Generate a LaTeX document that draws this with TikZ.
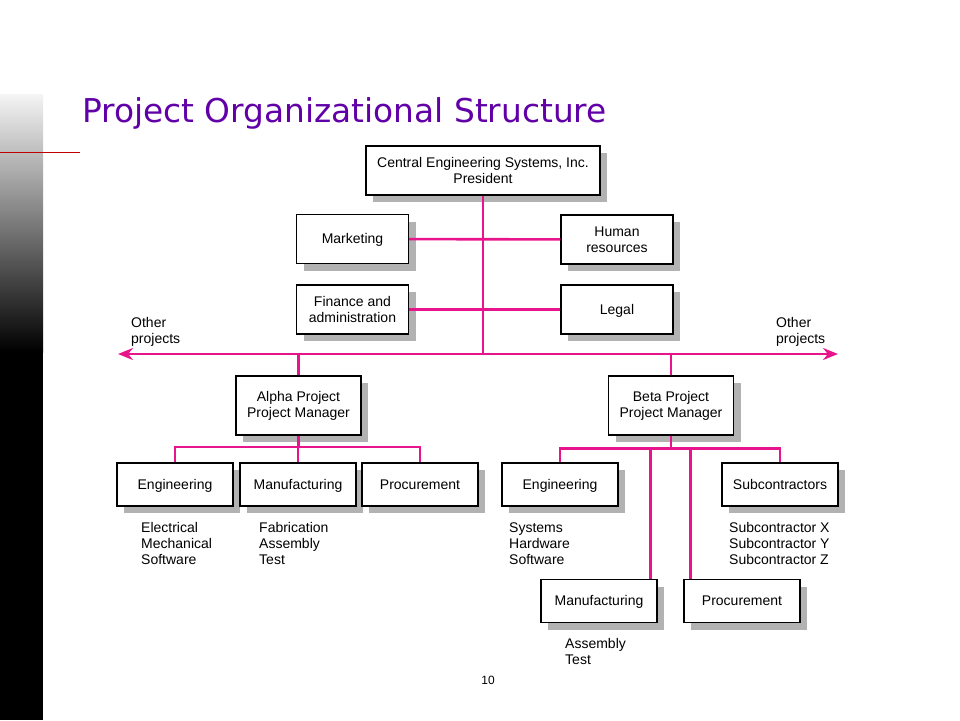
\documentclass[tikz,border=0pt]{standalone}
\usepackage{fontspec}
\setmainfont{Liberation Sans}
\newfontfamily\titlefont{DejaVu Sans}
\usepackage{tikz}
\usetikzlibrary{arrows.meta}
\usetikzlibrary{shadows}
\definecolor{linkpink}{RGB}{232,20,140}
\definecolor{titlepurple}{RGB}{98,0,168}
\definecolor{shadowgray}{RGB}{178,178,178}
\definecolor{slidered}{RGB}{192,0,0}
\tikzstyle{unit} = [rectangle, text centered, align=center, draw=black, line width=1.4pt, fill=white, font=\fontsize{14}{16}\selectfont, drop shadow={shadow xshift=7pt, shadow yshift=-7pt, fill=shadowgray, opacity=1}]
\tikzstyle{single} = [text height=11pt, text depth=1.5pt]
\tikzstyle{staff} = [unit, minimum width=112pt, minimum height=49pt]
\tikzstyle{dept} = [unit, single, minimum width=116pt, minimum height=43pt]
\tikzstyle{manager} = [unit, minimum width=125pt, minimum height=59pt]
\tikzstyle{note} = [align=left, inner sep=0pt, anchor=north west, font=\fontsize{14}{16}\selectfont]
\tikzstyle{link} = [linkpink, line width=2.6pt]
\tikzstyle{bus} = [link, {Stealth[length=15pt,width=12pt]}-{Stealth[length=15pt,width=12pt]}]

\begin{document}
\begin{tikzpicture}[x=1pt, y=-1pt]

\useasboundingbox (0,0) rectangle (960,720);
\shade [top color=white!96!black, bottom color=black] (0,94) rectangle (43,352);
\fill [black] (0,352) rectangle (43,720);
\draw [slidered, line width=1pt] (0,152) -- (80,152);

\node (title) [anchor=base west, inner sep=0pt, text=titlepurple, font=\titlefont\fontsize{32.8}{39}\selectfont] at (82,122) {Project Organizational Structure};

\node (pres) [unit, minimum width=234pt, minimum height=49pt] at (483,170.5) {Central Engineering Systems, Inc.\\President};
\node (mkt) [staff, single] at (352.5,239) {Marketing};
\node (hr) [staff] at (617,239.5) {Human\\resources};
\node (fin) [staff] at (352.5,309.5) {Finance and\\administration};
\node (legal) [staff, single] at (617,309.5) {Legal};

\coordinate (wl) at (118,354);
\coordinate (wr) at (838,354);
\node (othl) [note] at (131,317) {Other\\projects};
\node (othr) [note] at (776,317) {Other\\projects};

\node (alpha) [manager] at (298.5,405.5) {Alpha Project\\Project Manager};
\node (beta) [manager] at (671,405.5) {Beta Project\\Project Manager};

\node (aeng) [dept] at (175,484.5) {Engineering};
\node (amfg) [dept] at (298,484.5) {Manufacturing};
\node (aproc) [dept] at (420,484.5) {Procurement};
\node (beng) [dept] at (560,484.5) {Engineering};
\node (bsub) [dept] at (780,484.5) {Subcontractors};
\node (bmfg) [dept] at (599,601) {Manufacturing};
\node (bproc) [dept] at (742,601) {Procurement};

\node (aengnote) [note] at (141,522.5) {Electrical\\Mechanical\\Software};
\node (amfgnote) [note] at (259,522.5) {Fabrication\\Assembly\\Test};
\node (bengnote) [note] at (509,522.5) {Systems\\Hardware\\Software};
\node (bsubnote) [note] at (729,522.5) {Subcontractor X\\Subcontractor Y\\Subcontractor Z};
\node (bmfgnote) [note] at (565,638) {Assembly\\Test};
\node (page) [font=\fontsize{12}{14}\selectfont] at (488,680) {10};

\coordinate (abus) at (0,447);
\coordinate (bbus) at (0,448.5);

\draw [link] (pres.south) -- (pres.south |- wl);
\draw [link] (mkt) -- (hr);
\draw [link] (fin) -- (legal);
\draw [bus] (wl) -- (wr);
\draw [link] (alpha.north) -- (alpha.north |- wl);
\draw [link] (beta.north) -- (beta.north |- wl);
\draw [link] (alpha.south) -- (alpha.south |- abus);
\draw [link] (aeng.north) -- (aeng.north |- abus) -- (aproc.north |- abus) -- (aproc.north);
\draw [link] (amfg.north) -- (amfg.north |- abus);
\draw [link] (beta.south) -- (beta.south |- bbus);
\draw [link] (beng.north) -- (beng.north |- bbus) -- (bsub.north |- bbus) -- (bsub.north);
\draw [link] ([xshift=-7pt]bmfg.north east) -- ([xshift=-7pt]bmfg.north east |- bbus);
\draw [link] ([xshift=7pt]bproc.north west) -- ([xshift=7pt]bproc.north west |- bbus);

\end{tikzpicture}
\end{document}
